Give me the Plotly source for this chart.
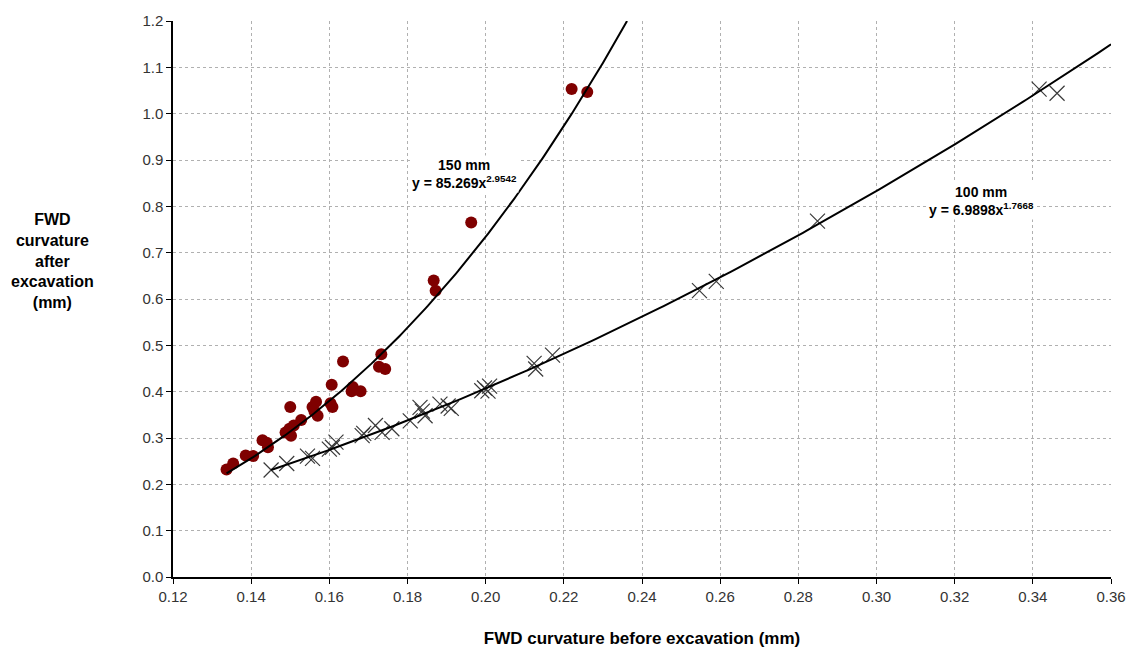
import numpy as np
import plotly.graph_objects as go

# 150 mm data (red circles)
x150 = [0.1337, 0.1354, 0.1386, 0.1405, 0.1429, 0.1440, 0.1443, 0.1488, 0.1498, 0.1502,
        0.1509, 0.1500, 0.1528, 0.1557, 0.1566, 0.1562, 0.1570, 0.1606, 0.1603, 0.1608,
        0.1635, 0.1657, 0.1660, 0.1680, 0.1727, 0.1733, 0.1743, 0.1867, 0.1872, 0.1963,
        0.2220, 0.2260]
y150 = [0.232, 0.245, 0.262, 0.261, 0.295, 0.290, 0.280, 0.312, 0.320, 0.305,
        0.327, 0.367, 0.339, 0.367, 0.378, 0.357, 0.348, 0.415, 0.375, 0.367,
        0.465, 0.401, 0.410, 0.401, 0.454, 0.481, 0.449, 0.640, 0.618, 0.765,
        1.053, 1.047]

# 100 mm data (black crosses)
x100 = [0.1451, 0.1491, 0.1544, 0.1557, 0.1600, 0.1608, 0.1617, 0.1684, 0.1688, 0.1718,
        0.1735, 0.1760, 0.1807, 0.1832, 0.1838, 0.1845, 0.1883, 0.1904, 0.1912, 0.1990,
        0.1997, 0.2006, 0.2010, 0.2124, 0.2128, 0.2171, 0.2547, 0.2590, 0.2849, 0.3416,
        0.3462]
y100 = [0.231, 0.245, 0.261, 0.256, 0.276, 0.280, 0.291, 0.305, 0.310, 0.327,
        0.312, 0.320, 0.337, 0.366, 0.358, 0.348, 0.373, 0.369, 0.364, 0.402,
        0.408, 0.401, 0.412, 0.461, 0.449, 0.479, 0.618, 0.638, 0.768, 1.053,
        1.044]

# Power-law trendline coefficients shown on the chart
a150, b150 = 85.269, 2.9542
a100, b100 = 6.9898, 1.7668

xt150 = np.linspace(min(x150), (1.2 / a150) ** (1 / b150), 200)
yt150 = a150 * xt150 ** b150
xt100 = np.linspace(min(x100), 0.36, 200)
yt100 = a100 * xt100 ** b100

FONT = "Liberation Sans, Arial, sans-serif"

fig = go.Figure()
fig.add_trace(go.Scatter(x=x150, y=y150, mode="markers",
                         marker=dict(symbol="circle", size=12, color="#7f0000"),
                         showlegend=False))
fig.add_trace(go.Scatter(x=x100, y=y100, mode="markers",
                         marker=dict(symbol="x-thin-open", size=15, color="#3a3a3a",
                                     line=dict(color="#3a3a3a", width=1.2)),
                         showlegend=False))
fig.add_trace(go.Scatter(x=xt150, y=yt150, mode="lines",
                         line=dict(color="black", width=2), showlegend=False))
fig.add_trace(go.Scatter(x=xt100, y=yt100, mode="lines",
                         line=dict(color="black", width=2), showlegend=False))

fig.add_annotation(x=0.1945, y=0.870, xref="x", yref="y", showarrow=False,
                   text="<b>150 mm<br>y = 85.269x<sup>2.9542</sup></b>",
                   font=dict(family=FONT, size=14, color="black"),
                   bgcolor="white", align="center")
fig.add_annotation(x=0.3268, y=0.812, xref="x", yref="y", showarrow=False,
                   text="<b>100 mm<br>y = 6.9898x<sup>1.7668</sup></b>",
                   font=dict(family=FONT, size=14, color="black"),
                   bgcolor="white", align="center")

W, H = 1138, 657
L, R, T, B = 173, 20, 15, 79
pw, ph = W - L - R, H - T - B
fig.add_annotation(x=(52 - L) / pw, y=(H - B - 258) / ph, xref="paper", yref="paper",
                   showarrow=False, xanchor="center", yanchor="middle",
                   text="<b>FWD<br>curvature<br>after<br>excavation<br>(mm)</b>",
                   font=dict(family=FONT, size=16, color="black"), align="center")

fig.update_layout(
    width=W, height=H,
    margin=dict(l=L, r=R, t=T, b=B),
    paper_bgcolor="white", plot_bgcolor="white",
    font=dict(family=FONT, size=15, color="#333"),
)

fig.update_xaxes(range=[0.12, 0.36], dtick=0.02, tick0=0.12, tickformat=".2f",
                 showgrid=True, gridcolor="#b0b0b0", griddash="dot", gridwidth=1,
                 showline=True, linecolor="black", linewidth=1.5,
                 ticks="outside", ticklen=5, tickcolor="black",
                 zeroline=False,
                 title=dict(text="<b>FWD curvature before excavation (mm)</b>",
                            font=dict(family=FONT, size=17, color="black"), standoff=28))
fig.update_yaxes(range=[0, 1.2], dtick=0.1, tick0=0, tickformat=".1f",
                 showgrid=True, gridcolor="#b0b0b0", griddash="dot", gridwidth=1,
                 showline=True, linecolor="black", linewidth=1.5,
                 ticks="outside", ticklen=5, tickcolor="black",
                 zeroline=False)

fig.write_html("out.html")
